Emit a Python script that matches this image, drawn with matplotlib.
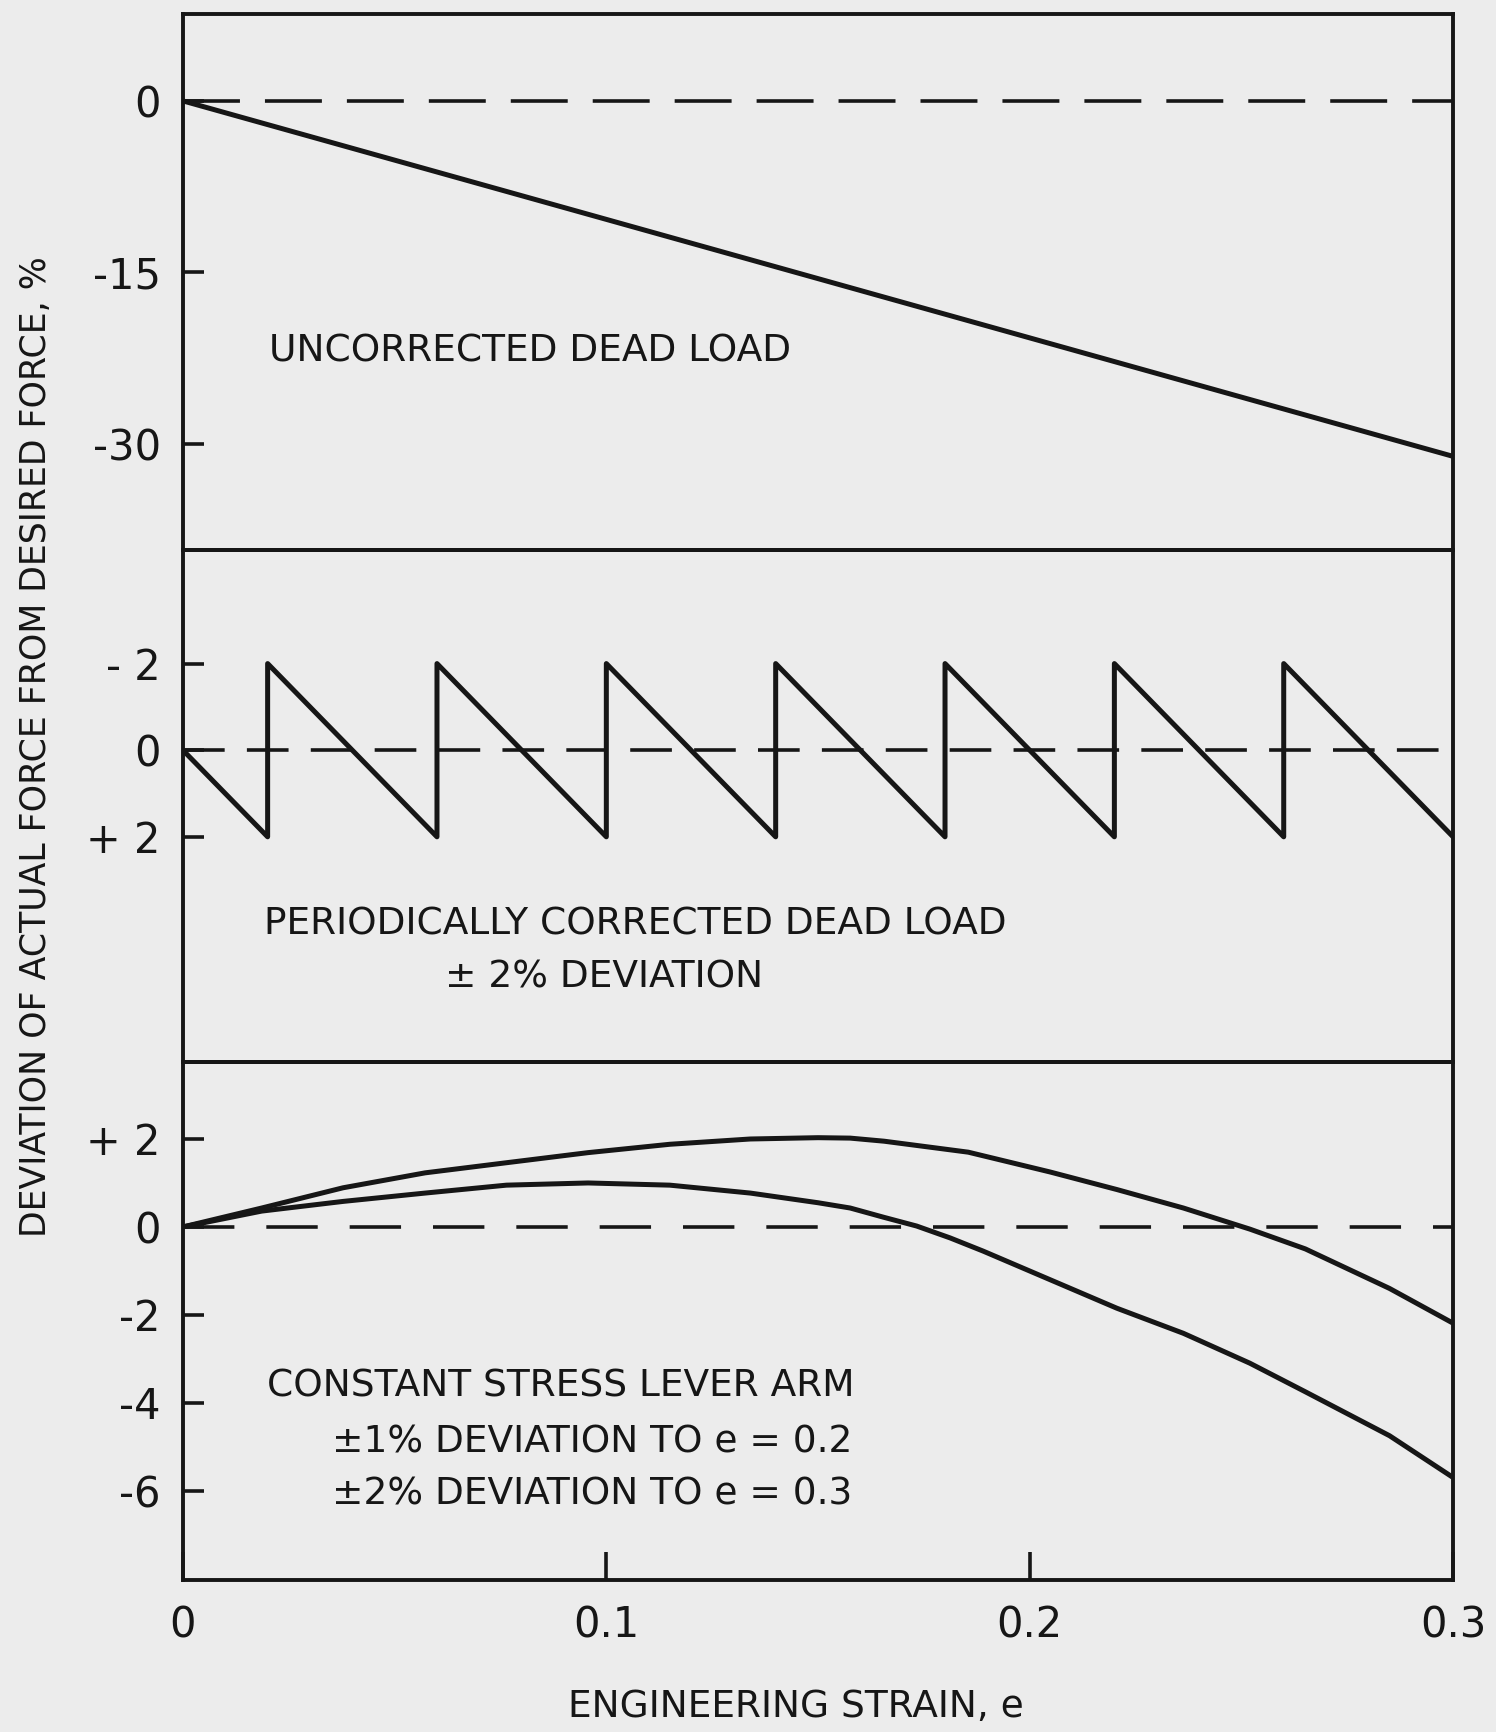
import matplotlib
matplotlib.use("Agg")
import matplotlib.pyplot as plt

# strain axis
x_ticks = [0, 0.1, 0.2, 0.3]
x_ticklabels = ["0", "0.1", "0.2", "0.3"]

# top panel: uncorrected dead load
dead_x = [0.0, 0.3]
dead_y = [0.0, -31.1]
top_ticks = [0, -15, -30]
top_ticklabels = ["0", "-15", "-30"]

# middle panel: periodically corrected (sawtooth, axis inverted)
saw_x = [0.0, 0.02, 0.02, 0.06, 0.06, 0.10, 0.10, 0.14, 0.14, 0.18, 0.18,
         0.22, 0.22, 0.26, 0.26, 0.30]
saw_y = [0, 2, -2, 2, -2, 2, -2, 2, -2, 2, -2, 2, -2, 2, -2, 2]
mid_ticks = [-2, 0, 2]
mid_ticklabels = ["- 2", "0", "+ 2"]

# bottom panel: constant stress lever arm
upper_x = [0.0, 0.0186, 0.0378, 0.0572, 0.0764, 0.0957, 0.115, 0.134, 0.15,
           0.1576, 0.1656, 0.1855, 0.2048, 0.2206, 0.2363, 0.252, 0.2651,
           0.285, 0.3]
upper_y = [0.0, 0.43, 0.89, 1.23, 1.46, 1.69, 1.88, 2.0, 2.03,
           2.02, 1.95, 1.7, 1.25, 0.85, 0.43, -0.05, -0.5,
           -1.4, -2.19]
lower_x = [0.0, 0.0186, 0.0378, 0.0572, 0.0764, 0.0957, 0.115, 0.134, 0.15,
           0.1576, 0.1655, 0.1733, 0.1812, 0.189, 0.2048, 0.2206, 0.2363,
           0.252, 0.2651, 0.285, 0.3]
lower_y = [0.0, 0.36, 0.58, 0.77, 0.95, 1.0, 0.95, 0.77, 0.55,
           0.43, 0.22, 0.02, -0.25, -0.55, -1.2, -1.85, -2.42,
           -3.1, -3.75, -4.75, -5.7]
bot_ticks = [2, 0, -2, -4, -6]
bot_ticklabels = ["+ 2", "0", "-2", "-4", "-6"]

ink = "#161616"
paper = "#ececec"
plt.rcParams["font.family"] = ["DejaVu Sans"]
plt.rcParams["lines.scale_dashes"] = False

fig = plt.figure(figsize=(14.96, 17.32), dpi=100, facecolor=paper)

left, width = 0.1223, 0.849
rects = [(left, 0.6824, width, 0.3095),
         (left, 0.3868, width, 0.2956),
         (left, 0.0878, width, 0.2990)]
ax_top = fig.add_axes(rects[0])
ax_mid = fig.add_axes(rects[1])
ax_bot = fig.add_axes(rects[2])

for ax in (ax_top, ax_mid, ax_bot):
    ax.set_facecolor("none")
    ax.set_xlim(0, 0.3)
    for s in ax.spines.values():
        s.set_linewidth(2.8)
        s.set_color(ink)
    ax.tick_params(axis="y", direction="in", length=15, width=2.6, color=ink,
                   labelsize=30, labelcolor=ink, pad=16, right=False)
    ax.tick_params(axis="x", direction="in", length=20, width=2.6, color=ink,
                   labelsize=30, labelcolor=ink, pad=18, top=False)

# top
ax_top.set_ylim(-39.3, 7.6)
ax_top.plot(dead_x, dead_y, color=ink, lw=3.6)
ax_top.axhline(0, color=ink, lw=2.6, dashes=(41, 18))
ax_top.set_yticks(top_ticks)
ax_top.set_yticklabels(top_ticklabels)
ax_top.set_xticks([])
ax_top.text(0.0203, -21.9, "UNCORRECTED DEAD LOAD", fontsize=27, color=ink,
            va="center", ha="left")

# middle
ax_mid.set_ylim(7.2, -4.62)
ax_mid.plot(saw_x, saw_y, color=ink, lw=3.6)
ax_mid.axhline(0, color=ink, lw=2.6, dashes=(30, 16))
ax_mid.set_yticks(mid_ticks)
ax_mid.set_yticklabels(mid_ticklabels)
ax_mid.set_xticks([])
ax_mid.text(0.0192, 4.02, "PERIODICALLY CORRECTED DEAD LOAD", fontsize=27,
            color=ink, va="center", ha="left")
ax_mid.text(0.0619, 5.24, "\u00b1 2% DEVIATION", fontsize=27,
            color=ink, va="center", ha="left")

# bottom
ax_bot.set_ylim(-8.03, 3.75)
ax_bot.plot(upper_x, upper_y, color=ink, lw=3.6)
ax_bot.plot(lower_x, lower_y, color=ink, lw=3.6)
ax_bot.axhline(0, color=ink, lw=2.6, dashes=(37, 23))
ax_bot.set_yticks(bot_ticks)
ax_bot.set_yticklabels(bot_ticklabels)
ax_bot.set_xticks(x_ticks)
ax_bot.set_xticklabels(x_ticklabels)
ax_bot.text(0.0198, -3.62, "CONSTANT STRESS LEVER ARM", fontsize=27,
            color=ink, va="center", ha="left")
ax_bot.text(0.0351, -4.9, "\u00b11% DEVIATION TO e = 0.2", fontsize=27,
            color=ink, va="center", ha="left")
ax_bot.text(0.0351, -6.08, "\u00b12% DEVIATION TO e = 0.3", fontsize=27,
            color=ink, va="center", ha="left")

fig.text(0.024, 0.569, "DEVIATION OF ACTUAL FORCE FROM DESIRED FORCE, %",
         rotation=90, fontsize=25, color=ink, va="center", ha="center")
fig.text(0.532, 0.0144, "ENGINEERING STRAIN, e", fontsize=27, color=ink,
         va="center", ha="center")

fig.savefig("out.png", dpi=100, facecolor=paper)
